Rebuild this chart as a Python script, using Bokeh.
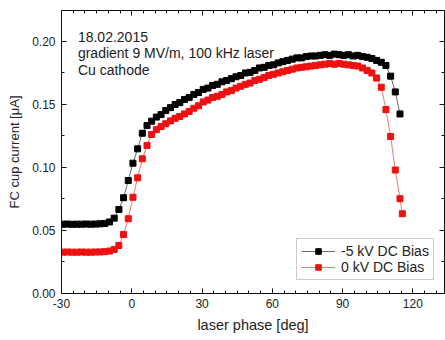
from bokeh.plotting import figure
from bokeh.models import (LinearAxis, FixedTicker, NumeralTickFormatter, Range1d,
                          Legend, LegendItem, Label)
from bokeh.embed import file_html
from bokeh.resources import INLINE

# ---- data ----
black_phase = [-29.5, -27.5, -25.5, -23.5, -21.5, -19.5, -17.5, -15.5, -13.5, -11.5,
               -9.5, -7.5, -5.5, -3.5, -1.5, 0.5, 2.5, 4.5, 6.5, 8.5, 10.5, 12.5, 14.5,
               16.5, 18.5, 20.5, 22.5, 24.5, 26.5, 28.5, 30.5, 32.5, 34.5, 36.5, 38.5,
               40.5, 42.5, 44.5, 46.5, 48.5, 50.5, 52.5, 54.5, 56.5, 58.5, 60.5, 62.5,
               64.5, 66.5, 68.5, 70.5, 72.5, 74.5, 76.5, 78.5, 80.5, 82.5, 84.5, 86.5,
               88.5, 90.5, 92.5, 94.5, 96.5, 98.5, 100.5, 102.5, 104.5, 106.5, 108.5,
               110.5, 112.5, 114.5]
black_current = [0.0550, 0.0551, 0.0549, 0.0550, 0.0550, 0.0551, 0.0550, 0.0551, 0.0553, 0.0556,
                 0.0568, 0.0598, 0.0667, 0.0760, 0.0897, 0.1034, 0.1148, 0.1272, 0.1333, 0.1368,
                 0.1400, 0.1420, 0.1452, 0.1475, 0.1500, 0.1515, 0.1540, 0.1555, 0.1580, 0.1595,
                 0.1620, 0.1630, 0.1650, 0.1660, 0.1680, 0.1690, 0.1705, 0.1720, 0.1730, 0.1750,
                 0.1755, 0.1770, 0.1790, 0.1795, 0.1810, 0.1815, 0.1830, 0.1840, 0.1850, 0.1860,
                 0.1870, 0.1870, 0.1880, 0.1885, 0.1885, 0.1890, 0.1895, 0.1890, 0.1900, 0.1895,
                 0.1890, 0.1895, 0.1885, 0.1890, 0.1880, 0.1875, 0.1865, 0.1850, 0.1835, 0.1810,
                 0.1725, 0.1600, 0.1425]

red_phase = [-29.5, -27.5, -25.5, -23.5, -21.5, -19.5, -17.5, -15.5, -13.5, -11.5,
             -9.5, -7.5, -5.5, -3.5, -1.5, 0.5, 2.5, 4.5, 6.5, 8.5, 10.5, 12.5, 14.5,
             16.5, 18.5, 20.5, 22.5, 24.5, 26.5, 28.5, 30.5, 32.5, 34.5, 36.5, 38.5,
             40.5, 42.5, 44.5, 46.5, 48.5, 50.5, 52.5, 54.5, 56.5, 58.5, 60.5, 62.5,
             64.5, 66.5, 68.5, 70.5, 72.5, 74.5, 76.5, 78.5, 80.5, 82.5, 84.5, 86.5,
             88.5, 90.5, 92.5, 94.5, 96.5, 98.5, 100.5, 102.5, 104.5, 106.5, 108.5,
             110.5, 112.5, 114.5, 115.5]
red_current = [0.0328, 0.0329, 0.0328, 0.0328, 0.0329, 0.0328, 0.0328, 0.0329, 0.0330, 0.0332,
               0.0337, 0.0350, 0.0381, 0.0468, 0.0593, 0.0764, 0.0918, 0.1069, 0.1175, 0.1262,
               0.1300, 0.1325, 0.1347, 0.1370, 0.1390, 0.1405, 0.1425, 0.1445, 0.1470, 0.1490,
               0.1520, 0.1535, 0.1555, 0.1565, 0.1580, 0.1600, 0.1610, 0.1630, 0.1645, 0.1660,
               0.1670, 0.1690, 0.1700, 0.1715, 0.1730, 0.1740, 0.1750, 0.1760, 0.1770, 0.1780,
               0.1790, 0.1795, 0.1800, 0.1805, 0.1810, 0.1815, 0.1820, 0.1825, 0.1820, 0.1825,
               0.1820, 0.1815, 0.1810, 0.1805, 0.1790, 0.1770, 0.1750, 0.1710, 0.1637, 0.1460,
               0.1246, 0.0980, 0.0752, 0.0633]

x_ticks = [-30, 0, 30, 60, 90, 120]
x_minor = [-25, -20, -15, -10, -5, 5, 10, 15, 20, 25, 35, 40, 45, 50, 55, 65, 70, 75, 80, 85,
           95, 100, 105, 110, 115, 125, 130]
y_ticks = [0.00, 0.05, 0.10, 0.15, 0.20]
y_minor = [0.025, 0.075, 0.125, 0.175, 0.225]

series_labels = ["-5 kV DC Bias", "0 kV DC Bias"]
note_lines = ["18.02.2015", "gradient 9 MV/m, 100 kHz laser", "Cu cathode"]

FONT = "Liberation Sans"
TXT = "#222222"

p = figure(width=445, height=340, output_backend="svg", toolbar_location=None,
           x_range=Range1d(-30, 133.5), y_range=Range1d(0, 0.2246),
           min_border_left=61, min_border_right=1, min_border_top=10, min_border_bottom=47,
           background_fill_color="white", border_fill_color="white")
p.grid.visible = False
p.outline_line_color = "#111111"
p.outline_line_width = 1

def style_axis(ax, ticks, minor, labels=True):
    ax.ticker = FixedTicker(ticks=ticks, minor_ticks=minor)
    ax.major_tick_in = 5
    ax.major_tick_out = 0
    ax.minor_tick_in = 3
    ax.minor_tick_out = 0
    ax.axis_line_color = "#111111"
    ax.major_tick_line_color = "#111111"
    ax.minor_tick_line_color = "#111111"
    ax.major_label_text_font = FONT
    ax.major_label_text_font_size = "12px"
    ax.major_label_text_color = TXT
    ax.axis_label_text_font = FONT
    ax.axis_label_text_font_style = "normal"
    ax.axis_label_text_color = TXT
    if not labels:
        ax.major_label_overrides = {t: "" for t in ticks}
        ax.major_label_standoff = 0
        ax.axis_label = None
        ax.axis_label_standoff = 0

xa = p.xaxis[0]
style_axis(xa, x_ticks, x_minor)
xa.formatter = NumeralTickFormatter(format="0")
xa.axis_label = "laser phase [deg]"
xa.axis_label_text_font_size = "14.5px"
xa.major_label_standoff = 5
xa.axis_label_standoff = 6

ya = p.yaxis[0]
style_axis(ya, y_ticks, y_minor)
ya.formatter = NumeralTickFormatter(format="0.00")
ya.axis_label = "FC cup current [\u03bcA]"
ya.axis_label_text_font_size = "13px"
ya.major_label_standoff = 6
ya.axis_label_standoff = 7

top = LinearAxis()
style_axis(top, x_ticks, x_minor, labels=False)
p.add_layout(top, "above")
right = LinearAxis()
style_axis(right, y_ticks, y_minor, labels=False)
p.add_layout(right, "right")

lb = p.line(black_phase, black_current, line_color="#444444", line_width=0.8)
sb = p.scatter(black_phase, black_current, marker="square", size=6,
               fill_color="#000000", line_color="#000000")
lr = p.line(red_phase, red_current, line_color="#f05050", line_width=0.8)
sr = p.scatter(red_phase, red_current, marker="square", size=6,
               fill_color="#ee1111", line_color="#ee1111")

legend = Legend(items=[LegendItem(label=series_labels[0], renderers=[lb, sb]),
                       LegendItem(label=series_labels[1], renderers=[lr, sr])],
                location=(235, 13), padding=4, spacing=0, margin=0,
                glyph_width=34, glyph_height=14, label_height=14, label_standoff=6,
                label_text_font=FONT, label_text_font_size="14px", label_text_color=TXT,
                border_line_color="#999999", border_line_width=1,
                background_fill_color="white", background_fill_alpha=1)
p.add_layout(legend)

for txt, yv in zip(note_lines, [0.2036, 0.1905, 0.1774]):
    p.add_layout(Label(x=-23.0, y=yv, text=txt, text_font=FONT, text_font_size="14px",
                       text_color=TXT, text_baseline="alphabetic", text_align="left"))

open("out.html", "w").write(file_html(p, INLINE))
